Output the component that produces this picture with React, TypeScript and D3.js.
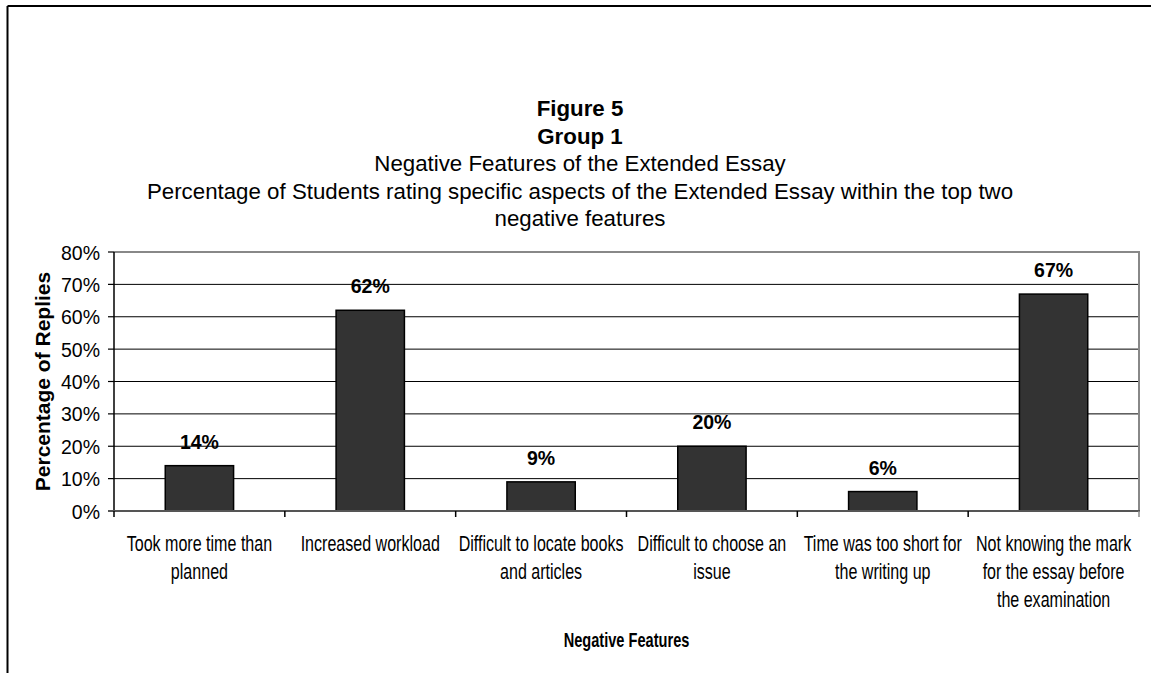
import React from "react";
import * as d3 from "d3";

const categories: string[][] = [
  ["Took more time than", "planned"],
  ["Increased workload"],
  ["Difficult to locate books", "and articles"],
  ["Difficult to choose an", "issue"],
  ["Time was too short for", "the writing up"],
  ["Not knowing the mark", "for the essay before", "the examination"],
];
const values: number[] = [0.14, 0.62, 0.09, 0.2, 0.06, 0.67];
const yTicks: number[] = [0, 0.1, 0.2, 0.3, 0.4, 0.5, 0.6, 0.7, 0.8];
const titleLines: { text: string; bold: boolean }[] = [
  { text: "Figure 5", bold: true },
  { text: "Group 1", bold: true },
  { text: "Negative Features of the Extended Essay", bold: false },
  { text: "Percentage of Students rating specific aspects of the Extended Essay within the top two", bold: false },
  { text: "negative features", bold: false },
];
const xTitle = "Negative Features";
const yTitle = "Percentage of Replies";

const W = 1151;
const H = 673;
const FONT = "'Liberation Sans', Arial, sans-serif";

function SText(props: {
  x: number;
  y: number;
  sx: number;
  size: number;
  bold?: boolean;
  anchor?: string;
  lines: string[];
  lineGap?: number;
}) {
  const { x, y, sx, size, bold, anchor = "middle", lines, lineGap = 28 } = props;
  return (
    <text
      transform={`translate(${x},${y}) scale(${sx},1)`}
      textAnchor={anchor}
      fontSize={size}
      fontWeight={bold ? "bold" : "normal"}
      fill="#000"
    >
      {lines.map((l, j) => (
        <tspan key={j} x={0} y={j * lineGap}>
          {l}
        </tspan>
      ))}
    </text>
  );
}

export default function App() {
  const left = 114;
  const right = 1139;
  const top = 252;
  const bottom = 511;

  const x = d3
    .scaleBand<number>()
    .domain(d3.range(categories.length))
    .range([left, right])
    .paddingInner(0.6)
    .paddingOuter(0.3);
  const step = (right - left) / categories.length;
  const y = d3.scaleLinear().domain([0, 0.8]).range([bottom, top]);
  const fmt = d3.format(".0%");

  return (
    <svg
      width={W}
      height={H}
      style={{ position: "absolute", left: 0, top: 0, background: "#fff" }}
      fontFamily={FONT}
    >
      <rect x={0} y={0} width={W} height={H} fill="#fff" />
      {/* outer frame */}
      <line x1={7.5} y1={6} x2={W} y2={6} stroke="#000" strokeWidth={2} />
      <line x1={7.5} y1={6} x2={7.5} y2={H} stroke="#000" strokeWidth={2} />

      {/* titles */}
      {titleLines.map((t, i) => (
        <SText
          key={i}
          x={580}
          y={116 + i * 27.5}
          sx={0.97}
          size={23}
          bold={t.bold}
          lines={[t.text]}
        />
      ))}

      {/* gridlines */}
      {yTicks
        .filter((v) => v > 0 && v < 0.8)
        .map((v) => (
          <line key={v} x1={left} x2={right} y1={y(v)} y2={y(v)} stroke="#000" strokeWidth={1} />
        ))}
      {/* plot border top & right */}
      <line x1={left} x2={right + 1} y1={top} y2={top} stroke="#888" strokeWidth={2} />
      <line x1={right} x2={right} y1={top} y2={bottom} stroke="#888" strokeWidth={2} />

      {/* bars */}
      {values.map((v, i) => (
        <rect
          key={i}
          x={x(i)!}
          y={y(v)}
          width={x.bandwidth()}
          height={bottom - y(v)}
          fill="#333333"
          stroke="#000"
          strokeWidth={1.5}
        />
      ))}

      {/* value labels */}
      {values.map((v, i) => (
        <SText
          key={i}
          x={x(i)! + x.bandwidth() / 2}
          y={y(v) - 17}
          sx={0.93}
          size={21}
          bold
          lines={[fmt(v)]}
        />
      ))}

      {/* y axis */}
      <line x1={left} x2={left} y1={top} y2={bottom + 1} stroke="#000" strokeWidth={1.5} />
      {yTicks.map((v) => (
        <g key={v}>
          <line x1={left - 6} x2={left} y1={y(v)} y2={y(v)} stroke="#000" strokeWidth={1.2} />
          <SText x={left - 14} y={y(v) + 7.5} sx={0.93} size={21} anchor="end" lines={[fmt(v)]} />
        </g>
      ))}

      {/* x axis */}
      <line x1={left - 6} x2={right + 1} y1={bottom} y2={bottom} stroke="#555" strokeWidth={2} />
      {d3.range(categories.length + 1).map((i) => (
        <line
          key={i}
          x1={left + i * step}
          x2={left + i * step}
          y1={bottom}
          y2={bottom + 6}
          stroke={i === categories.length ? "#888" : "#000"}
          strokeWidth={1.5}
        />
      ))}
      {categories.map((lines, i) => (
        <SText
          key={i}
          x={x(i)! + x.bandwidth() / 2}
          y={551}
          sx={0.73}
          size={22}
          lines={lines}
          lineGap={28}
        />
      ))}

      {/* axis titles */}
      <SText x={(left + right) / 2} y={647} sx={0.73} size={20} bold lines={[xTitle]} />
      <text
        transform={`translate(50, ${(top + bottom) / 2}) rotate(-90)`}
        textAnchor="middle"
        fontSize={21}
        fontWeight="bold"
        fill="#000"
      >
        {yTitle}
      </text>
    </svg>
  );
}
